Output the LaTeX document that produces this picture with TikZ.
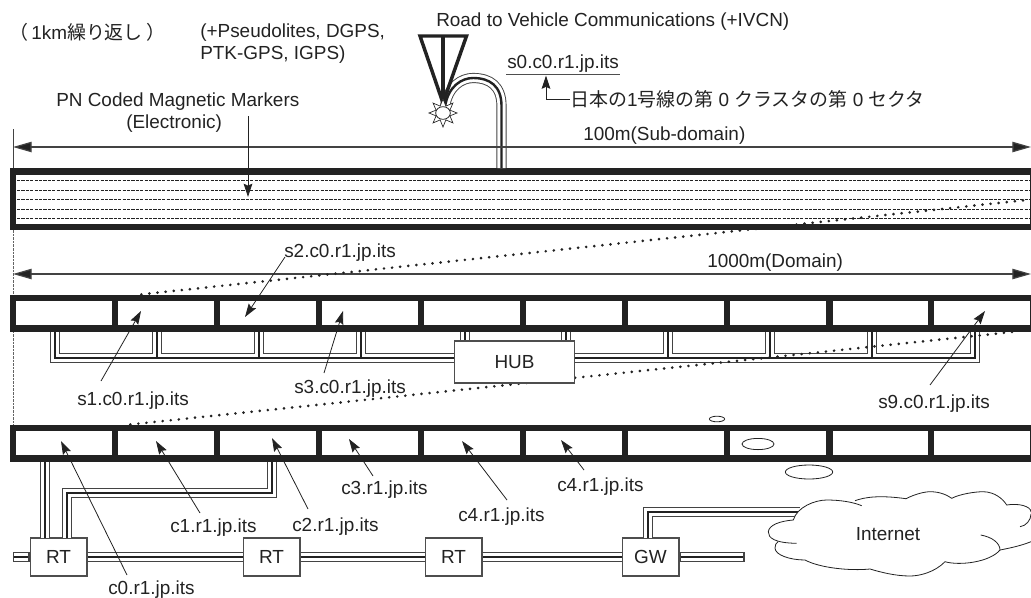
\documentclass[tikz,border=0pt]{standalone}
\usepackage{fontspec}
\setmainfont{Liberation Sans}
\newfontfamily\cjk{Noto Sans CJK JP}
\usetikzlibrary{arrows.meta,shapes.geometric}
\definecolor{ink}{HTML}{222222}
\tikzset{
  lab/.style={inner sep=0pt,text=ink,font=\fontsize{14.2pt}{16pt}\selectfont,anchor=west},
  boxn/.style={draw=ink!80,line width=0.8pt,fill=white,inner sep=0pt,text=ink,font=\fontsize{14.2pt}{16pt}\selectfont},
  frame/.style={fill=ink,draw=none},
  cell/.style={fill=white,draw=none,inner sep=0pt,minimum height=18.4pt},
  tubeline/.style={draw=ink!85,line width=7.6pt,line join=miter,
    postaction={draw=white,line width=6.2pt},
    postaction={draw=ink,line width=1.8pt}},
  tubeend/.style={draw=ink!85,line width=7.6pt,
    postaction={draw=white,line width=6.2pt,shorten <=0.9pt,shorten >=0.9pt},
    postaction={draw=ink,line width=1.8pt,shorten <=0.9pt,shorten >=0.9pt}},
  dim/.style={draw=ink!85,line width=0.9pt,{Triangle[length=14pt,width=7.8pt,fill=ink]}-{Triangle[length=14pt,width=7.8pt,fill=ink]}},
  point/.style={draw=ink,line width=0.6pt,-{Stealth[length=10pt,width=6.5pt,inset=1.5pt,fill=ink]}},
  dots/.style={draw=ink,line width=2.2pt,line cap=round,dash pattern=on 0pt off 6.1pt},
  dash1/.style={draw=ink,line width=0.55pt,dash pattern=on 2.4pt off 0.9pt},
  guide/.style={draw=ink!70,line width=0.7pt,dash pattern=on 2pt off 0.7pt},
  blob/.style={draw=ink,line width=0.6pt,fill=white,ellipse,inner sep=0pt},
  cloudline/.style={draw=ink,line width=0.6pt},
  mast/.style={draw=ink,line width=2.6pt,line join=miter}
}
\begin{document}
\begin{tikzpicture}[x=0.75pt,y=-0.75pt]
\useasboundingbox (0,0) rectangle (1031,597);
% guide lines at the left
\coordinate (gA) at (13,129); \coordinate (gB) at (13,168);
\coordinate (gC) at (13,230); \coordinate (gD) at (13,425);
\draw[draw=ink!85,line width=0.7pt] (gA) -- (gB);
\draw[guide] (gC) -- (gD);
% top band
\path[frame] (10,168) rectangle (1031,230);
\node[fill=white,inner sep=0pt,minimum width=760.5pt,minimum height=36.8pt] (sub) at (523,199.5) {};
\foreach \yy in {180,190,199,209,218}
  \draw[dash1] (17,\yy) -- (1030,\yy);
% antenna and feed
\coordinate (mL) at (420,36); \coordinate (mR) at (466.5,36); \coordinate (mA) at (443,103); \coordinate (mT) at (443,36);
\coordinate (feedS) at (445,107); \coordinate (feedE) at (501.5,168);
\path[tubeline] (feedS) .. controls (448,86) and (462,78) .. (473,78) .. controls (490,78) and (501.5,86) .. (501.5,106) -- (feedE);
\draw[mast] (mL) -- (mR) -- (mA) -- cycle;
\draw[mast] (mT) -- (mA);
\begin{scope}[shift={(443,113)}]
  \draw[draw=ink,line width=0.5pt,fill=white]
    (0:14) -- (22.5:7.5) -- (45:14) -- (67.5:7.5) -- (90:14) -- (112.5:7.5) -- (135:14) -- (157.5:7.5)
    -- (180:14) -- (202.5:7.5) -- (225:14) -- (247.5:7.5) -- (270:14) -- (292.5:7.5) -- (315:14) -- (337.5:7.5) -- cycle;
\end{scope}
\node[blob,minimum width=11pt,minimum height=9.5pt] (sun) at (443,113) {};
% dimension arrows
\coordinate (d1L) at (13,147); \coordinate (d1R) at (1031,147);
\coordinate (d2L) at (13,274); \coordinate (d2R) at (1031,274);
\draw[dim] (d1L) -- (d1R);
\draw[dim] (d2L) -- (d2R);
% tubes under the middle band (domain hub)
\coordinate (busLt) at (55,332); \coordinate (busLb) at (55,358);
\coordinate (busRt) at (975,332); \coordinate (busRb) at (975,358);
\path[frame] (10,295) rectangle (1031,332);
\path[frame] (10,425) rectangle (1031,462);
\path[tubeline] (busLt) -- (busLb) -- (busRb) -- (busRt)
   (157,332) -- (157,358) (259,332) -- (259,358) (361,332) -- (361,358) (465,332) -- (465,358)
   (566,332) -- (566,358) (668,332) -- (668,358) (770,332) -- (770,358) (872,332) -- (872,358);
% cells
\foreach \nm/\xa/\xb in {0/16/111.5,1/118/213.5,2/220/315.5,3/322/417.5,4/424/519.5,5/526/622,6/628/724,7/730/826,8/833/928,9/934/1030}{
  \pgfmathsetmacro\cw{(\xb-\xa)*0.75}
  \pgfmathsetmacro\cx{(\xa+\xb)/2}
  \node[cell,minimum width=\cw pt] (m\nm) at (\cx,313.2) {};
  \node[cell,minimum width=\cw pt] (b\nm) at (\cx,443.2) {};
}
% dotted projections
\coordinate (p1) at (140,294.5); \coordinate (p2) at (1031,199.5);
\coordinate (p3) at (130,424.5); \coordinate (p4) at (1012,332);
\draw[dots] (p2) -- (p1);
\draw[dots] (p4) -- (p3);
% hub
\node[boxn,minimum width=90pt,minimum height=31.5pt] (hub) at (514.5,362) {HUB};
% small ellipses
\node[blob,minimum width=11.5pt,minimum height=4.2pt] (e1) at (717,419) {};
\node[blob,minimum width=24pt,minimum height=8.4pt] (e2) at (758,444) {};
\node[blob,minimum width=35.5pt,minimum height=10.5pt] (e3) at (809,472) {};
% backbone
\node[boxn,minimum width=42.7pt,minimum height=28.5pt] (rt1) at (58.5,557) {RT};
\node[boxn,minimum width=42.7pt,minimum height=28.5pt] (rt2) at (271.5,557) {RT};
\node[boxn,minimum width=42.7pt,minimum height=28.5pt] (rt3) at (453.5,557) {RT};
\node[boxn,minimum width=42.7pt,minimum height=28.5pt] (gw) at (650.5,557) {GW};
\coordinate (busA) at (13,557); \coordinate (busB) at (744.5,557);
\path[tubeend] (busA) -- (rt1.west);
\path[tubeline] (rt1.east) -- (rt2.west);
\path[tubeline] (rt2.east) -- (rt3.west);
\path[tubeline] (rt3.east) -- (gw.west);
\path[tubeend] (gw.east) -- (busB);
% band to router links
\coordinate (l0) at (45,462); \coordinate (l1) at (45,538);
\coordinate (l2) at (272,462); \coordinate (l3) at (67,538);
\path[tubeline] (l0) -- (l1);
\path[tubeline] (l2) -- (272,493) -- (67,493) -- (l3);
\coordinate (l4) at (648,538); \coordinate (l5) at (800,512);
\path[tubeline] (l4) -- (648,512) -- (l5);
% cloud
\path[fill=white] (796.7,543.3) .. controls (775,543) and (768,538) .. (768.3,531.7)
  .. controls (769,525) and (780,521) .. (793.3,520)
  .. controls (797,507) and (815,500) .. (826.7,500)
  .. controls (840,500) and (853,502) .. (861.7,505.7)
  -- (855,500.7) .. controls (865,497) and (880,495) .. (880,495)
  .. controls (890,495) and (900,497) .. (906,498.7)
  .. controls (915,494) and (925,491.7) .. (930,491.7)
  .. controls (940,491.7) and (947,495) .. (951.7,498.3)
  .. controls (960,494) and (975,491.7) .. (983.3,491.7)
  .. controls (995,492) and (1003,499) .. (1006.7,505)
  .. controls (1018,503) and (1031,506) .. (1031,512)
  -- (1031,541.7) .. controls (1020,546) and (1010,548) .. (1000,550)
  .. controls (990,562) and (960,566) .. (945,561.7)
  .. controls (935,572) and (920,576) .. (910,576)
  .. controls (895,576) and (880,572) .. (870,569)
  .. controls (850,571) and (820,568) .. (805,560)
  .. controls (790,560) and (775,555) .. (775,548)
  .. controls (775,545) and (776,543) .. (778,541.7) -- cycle;
\draw[cloudline] (855,500.7) .. controls (865,497) and (880,495) .. (906,498.7);
\draw[cloudline] (796.7,543.3) .. controls (775,543) and (768,538) .. (768.3,531.7)
  .. controls (769,525) and (780,521) .. (793.3,520)
  .. controls (797,507) and (815,500) .. (826.7,500)
  .. controls (840,500) and (853,502) .. (861.7,505.7);
\draw[cloudline] (906,498.7) .. controls (915,494) and (925,491.7) .. (930,491.7)
  .. controls (940,491.7) and (947,495) .. (951.7,498.3)
  .. controls (960,494) and (975,491.7) .. (983.3,491.7)
  .. controls (995,492) and (1003,499) .. (1006.7,505)
  .. controls (1018,503) and (1031,506) .. (1031,512);
\draw[cloudline] (1031,514) .. controls (1031,520) and (1026,526) .. (1020,526.7);
\draw[cloudline] (1031,541.7) .. controls (1020,546) and (1010,548) .. (1000,550);
\draw[cloudline] (980.7,535) .. controls (992,537) and (1000,543) .. (1000,550)
  .. controls (990,562) and (960,566) .. (945,561.7)
  .. controls (935,572) and (920,576) .. (910,576)
  .. controls (895,576) and (880,572) .. (870,569)
  .. controls (850,571) and (820,568) .. (805,560)
  .. controls (790,560) and (775,555) .. (775,548)
  .. controls (775,545) and (776,543) .. (778,541.7);
\node[lab,anchor=center] (inet) at (888,534.5) {Internet};
% text labels
\node[lab] (rep) at (9,32) {{\cjk （}\,1km{\cjk 繰り返し}\,{\cjk ）}};
\node[lab] (gps1) at (200,33) {(+Pseudolites, DGPS,};
\node[lab] (gps2) at (200,55) {PTK-GPS, IGPS)};
\node[lab] (road) at (436,22) {Road to Vehicle Communications (+IVCN)};
\node[lab] (s0) at (507,64) {s0.c0.r1.jp.its};
\coordinate (ulA) at (506,74.5); \coordinate (ulB) at (620,74.5);
\draw[draw=ink!80,line width=0.8pt] (ulA) -- (ulB);
\node[lab] (jp) at (570,99) {{\cjk 日本の}1{\cjk 号線の第} 0 {\cjk クラスタの第} 0 {\cjk セクタ}};
\draw[point] (jp.west) -| (546,75.5);
\node[lab] (sub100) at (583,136) {100m(Sub-domain)};
\node[lab] (pn1) at (56,102) {PN Coded Magnetic Markers};
\node[lab] (pn2) at (126,124) {(Electronic)};
\coordinate (pnA) at (248,116); \coordinate (pnB) at (248,197);
\draw[point] (pnA) -- (pnB);
\node[lab] (dom) at (707,263) {1000m(Domain)};
\node[lab] (s2) at (284,253) {s2.c0.r1.jp.its};
\node[lab] (s1) at (77,401) {s1.c0.r1.jp.its};
\node[lab] (s3) at (294,389) {s3.c0.r1.jp.its};
\node[lab] (s9) at (878,404) {s9.c0.r1.jp.its};
\coordinate (s2a) at (285,257); \coordinate (s2b) at (245,317);
\coordinate (s1a) at (101,381); \coordinate (s1b) at (141,311);
\coordinate (s3a) at (324,373); \coordinate (s3b) at (343,311);
\coordinate (s9a) at (930,385); \coordinate (s9b) at (985,311);
\draw[point] (s2a) -- (s2b);
\draw[point] (s1a) -- (s1b);
\draw[point] (s3a) -- (s3b);
\draw[point] (s9a) -- (s9b);
\node[lab] (c0) at (108,590) {c0.r1.jp.its};
\node[lab] (c1) at (170,528) {c1.r1.jp.its};
\node[lab] (c2) at (292,527) {c2.r1.jp.its};
\node[lab] (c3) at (341,490) {c3.r1.jp.its};
\node[lab] (c4a) at (458,517) {c4.r1.jp.its};
\node[lab] (c4b) at (557,487) {c4.r1.jp.its};
\coordinate (c0a) at (127,575); \coordinate (c0b) at (61,441);
\coordinate (c1a) at (200,513); \coordinate (c1b) at (156,441);
\coordinate (c2a) at (308,509); \coordinate (c2b) at (272,438);
\coordinate (c3a) at (373,476); \coordinate (c3b) at (349,439);
\coordinate (c4a1) at (507,500); \coordinate (c4a2) at (462,441);
\coordinate (c4b1) at (584,470); \coordinate (c4b2) at (561,440);
\draw[point] (c0a) -- (c0b);
\draw[point] (c1a) -- (c1b);
\draw[point] (c2a) -- (c2b);
\draw[point] (c3a) -- (c3b);
\draw[point] (c4a1) -- (c4a2);
\draw[point] (c4b1) -- (c4b2);
\end{tikzpicture}
\end{document}
